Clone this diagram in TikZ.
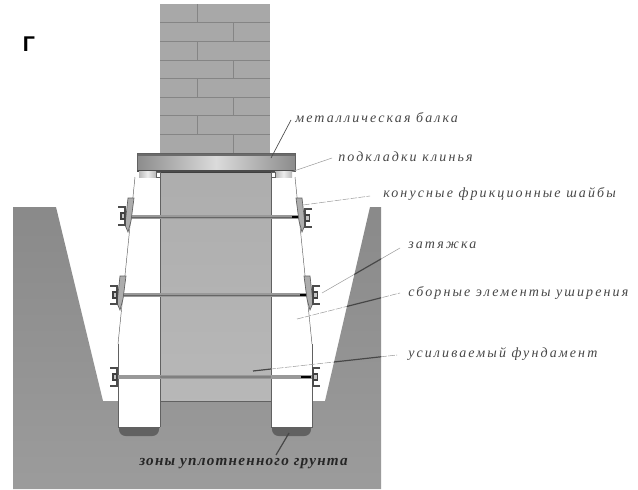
\documentclass[tikz,border=0pt]{standalone}
\usepackage{fontspec}
\setmainfont{Liberation Serif}
\newfontfamily\headfont{Liberation Sans}
\definecolor{groundA}{gray}{0.54}
\definecolor{groundB}{gray}{0.61}
\definecolor{wallfill}{gray}{0.66}
\definecolor{wallline}{gray}{0.52}
\definecolor{foundA}{gray}{0.72}
\definecolor{foundB}{gray}{0.68}
\definecolor{edge}{gray}{0.38}
\definecolor{leaderlight}{gray}{0.62}
\definecolor{leaderdark}{gray}{0.28}
\definecolor{textgray}{gray}{0.28}
\definecolor{beamend}{gray}{0.55}
\definecolor{beammid}{gray}{0.86}
\definecolor{rodgray}{gray}{0.60}
\definecolor{shadowgray}{gray}{0.38}
\definecolor{platefill}{gray}{0.68}
\newcommand{\groundpath}{(13,207) -- (56,207) -- (103,401) -- (325,401) -- (370,207) -- (381,207) -- (381,489) -- (13,489) -- cycle}
\tikzset{
  px/.style={x=0.75pt,y=-0.75pt},
  lab/.style={anchor=west,inner sep=0pt,text=textgray,font=\fontsize{10.5pt}{12pt}\selectfont\itshape\addfontfeature{LetterSpace=15}},
  labbold/.style={anchor=west,inner sep=0pt,text=black!85,font=\fontsize{11.4pt}{13pt}\selectfont\bfseries\itshape\addfontfeature{LetterSpace=8}},
  brickline/.style={draw=wallline,line width=0.7pt},
  soleedge/.style={draw=edge,line width=0.65pt},
  thinedge/.style={draw=edge,line width=0.35pt},
  leaderlt/.style={draw=leaderlight,line width=0.4pt},
  leaderdk/.style={draw=leaderdark,line width=0.9pt},
  pics/plate/.style={code={
    \fill[platefill,draw=edge,line width=0.5pt] (3,-19) -- (-3,-19) -- (-6,8) -- (-3,15) -- (0,4) -- cycle;
  }},
  pics/flange/.style={code={
    \draw[black!70,line width=1.4pt] (-12,-9) -- (-5,-9) -- (-5,9) -- (-12,9);
    \fill[black!75] (-10,-4) rectangle (-5,4);
    \fill[gray!45] (-8.5,-2) rectangle (-6,2);
  }},
}
\begin{document}
\begin{tikzpicture}[px]
\useasboundingbox (0,0) rectangle (638,489);
% ground
\shade[top color=groundA,bottom color=groundB] \groundpath;
% soil compaction zones
\fill[shadowgray,rounded corners=5pt] (119,420) rectangle (159,436);
\fill[shadowgray,rounded corners=5pt] (272,420) rectangle (311,436);
% widening elements
\fill[white] (135,177) -- (118,344) -- (118,427) -- (160,427) -- (160,172) -- (135,172) -- cycle;
\fill[white] (295,177) -- (312,344) -- (312,427) -- (271,427) -- (271,172) -- (295,172) -- cycle;
\draw[thinedge] (135,177) -- (118,344);
\draw[thinedge] (295,177) -- (312,344);
\draw[soleedge] (118,344) -- (118,427) -- (160,427);
\draw[soleedge] (312,344) -- (312,427) -- (271,427);
% foundation
\shade[top color=foundB,bottom color=foundA] (160,172) rectangle (271,401);
\draw[soleedge] (160,427) -- (160,172);
\draw[soleedge] (271,427) -- (271,172);
\draw[soleedge] (160,401) -- (271,401);
\draw[line width=1pt,black!75] (160,172) -- (271,172);
% wall
\fill[wallfill] (160,4) rectangle (270,153);
\foreach \yy in {22,41,60,78,97,115,134} \draw[brickline] (160,\yy) -- (270,\yy);
\foreach \yy/\xx in {4/197,22/233,41/197,60/233,78/197,97/233,115/197,134/233} {
  \draw[brickline] (\xx,\yy) -- (\xx,\yy+18.5);
}
% beam
\shade[left color=beamend,right color=beamend,middle color=beammid] (137,154) rectangle (295,171);
\fill[black!58] (137,153) rectangle (295,156);
\draw[edge,line width=0.5pt] (137,153) rectangle (295,171);
\draw[black!70,line width=0.8pt] (137,171) -- (295,171);
% pads and wedges
\shade[left color=gray!55,right color=gray!55,middle color=gray!15] (139,171.5) rectangle (156,177);
\shade[left color=gray!55,right color=gray!55,middle color=gray!15] (275,171.5) rectangle (292,177);
\draw[edge,line width=0.4pt] (156,172) rectangle (160,177);
\draw[edge,line width=0.4pt] (271,172) rectangle (275,177);
% tie rods
\coordinate (r1l) at (131,217); \coordinate (r1r) at (299,217);
\coordinate (r2l) at (123,295); \coordinate (r2r) at (307,295);
\coordinate (r3l) at (118,377); \coordinate (r3r) at (312,377);
\draw[rodgray,line width=2.6pt] (r1l) -- (r1r);
\draw[rodgray,line width=2.6pt] (r2l) -- (r2r);
\draw[rodgray,line width=2.6pt] (r3l) -- (r3r);
\draw[black!60,line width=0.7pt] (r1l) -- (r1r);
\draw[black!60,line width=0.7pt] (r2l) -- (r2r);
\draw[black!50,line width=2pt] (160,377) -- (271,377);
\draw[black,line width=1.8pt] (292,217) -- (298,217);
\draw[black,line width=1.8pt] (300,295) -- (306,295);
\draw[black,line width=1.5pt] (301,377) -- (311,377);
% clamps
\pic at (131,217) {plate};
\pic at (130,216) {flange};
\pic[xscale=-1] at (299,217) {plate};
\pic[xscale=-1] at (300,218) {flange};
\pic at (123,295) {plate};
\pic at (122,295) {flange};
\pic[xscale=-1] at (307,295) {plate};
\pic[xscale=-1] at (308,295) {flange};
\pic at (122,377) {flange};
\pic[xscale=-1] at (308,377) {flange};
% labels
\node[font=\headfont\bfseries\fontsize{16pt}{16pt}\selectfont,anchor=center,inner sep=0pt] (letter) at (29,44) {Г};
\node[lab] (tBeam) at (295,118) {металлическая балка};
\node[lab] (tPads) at (338,157) {подкладки клинья};
\node[lab] (tWash) at (383,194) {конусные фрикционные шайбы};
\node[lab] (tTie) at (408,245) {затяжка};
\node[lab] (tElem) at (408,293) {сборные элементы уширения};
\node[lab] (tFound) at (408,354) {усиливаемый фундамент};
\node[labbold] (tSoil) at (139,464) {зоны уплотненного грунта};
% leader ends
\coordinate (aBeam) at (271,158);   \coordinate (bBeam) at (291,120);
\coordinate (aPads) at (291,172);   \coordinate (bPads) at (332,158);
\coordinate (aWash) at (303,205);   \coordinate (bWash) at (370,196);
\coordinate (aTie) at (322,293);    \coordinate (bTie) at (400,248);
\coordinate (aElem) at (297,319);   \coordinate (bElem) at (400,293);
\coordinate (aFound) at (253,371);  \coordinate (bFound) at (397,355);
\coordinate (aSoil) at (289,433);   \coordinate (bSoil) at (276,455);
\draw[black!70,line width=0.5pt] (aBeam) -- (bBeam);
\draw[leaderlt] (aPads) -- (bPads);
\draw[leaderlt,dash pattern=on 5pt off 1pt] (aWash) -- (bWash);
\draw[leaderlt] (aTie) -- (bTie);
\draw[leaderlt,dash pattern=on 5pt off 1pt] (aElem) -- (bElem);
\draw[leaderlt,dash pattern=on 5pt off 1pt] (aFound) -- (bFound);
\begin{scope}
  \clip \groundpath;
  \draw[leaderdk] (aTie) -- (bTie);
  \draw[leaderdk] (aElem) -- (bElem);
  \draw[leaderdk] (aFound) -- (bFound);
\end{scope}
\begin{scope}
  \clip (160,172) rectangle (271,401);
  \draw[leaderdk] (aFound) -- (bFound);
\end{scope}
\draw[leaderdk] (aSoil) -- (bSoil);
\end{tikzpicture}
\end{document}
